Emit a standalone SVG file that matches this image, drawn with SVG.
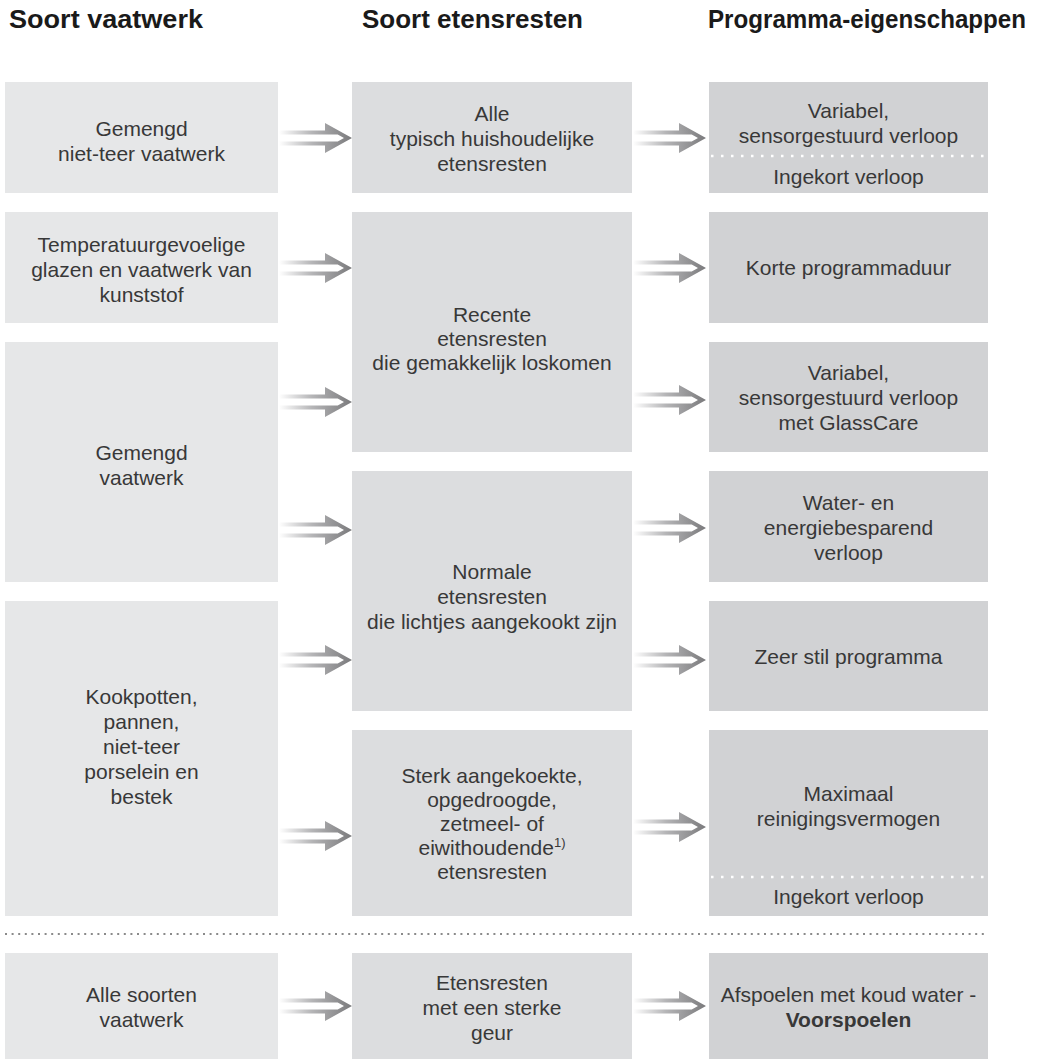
<svg xmlns="http://www.w3.org/2000/svg" xmlns:xlink="http://www.w3.org/1999/xlink" width="1040" height="1059" viewBox="0 0 1040 1059">
<defs>
<style>
.hd{font-family:"Liberation Sans",Arial,sans-serif;font-weight:bold;font-size:25px;fill:#1a1a1a}
.t{font-family:"Liberation Sans",Arial,sans-serif;font-size:21px;fill:#383838;text-anchor:middle}
.b1{fill:#e6e7e8}
.b2{fill:#dcdddf}
.b3{fill:#d1d2d4}
.wd{stroke:#fff;stroke-width:2.5;stroke-dasharray:2.5 7.5;fill:none}
</style>
<linearGradient id="ag" gradientUnits="userSpaceOnUse" x1="-73" y1="0" x2="0" y2="0">
<stop offset="0" stop-color="#ffffff"/>
<stop offset="0.45" stop-color="#b5b5b7"/>
<stop offset="1" stop-color="#7a7a7c"/>
</linearGradient>
<path id="arr" fill="url(#ag)" fill-rule="evenodd" d="M-73,-7.5 H-27 V-15 L0,0 L-27,15 V7.5 H-73 Z M-73,-3.5 H-14.3 L-8,0 L-14.3,3.5 H-73 Z"/>
</defs>
<rect width="1040" height="1059" fill="#fff"/>
<g id="headers">
<text class="hd" x="9" y="28" textLength="194" lengthAdjust="spacingAndGlyphs">Soort vaatwerk</text>
<text class="hd" x="362" y="28" textLength="221" lengthAdjust="spacingAndGlyphs">Soort etensresten</text>
<text class="hd" x="708" y="28" textLength="318" lengthAdjust="spacingAndGlyphs">Programma-eigenschappen</text>
</g>
<g id="col1">
<g id="n-a"><rect class="b1" x="5" y="82" width="273" height="111"/>
<text class="t" x="141.5" y="136">Gemengd</text><text class="t" x="141.5" y="161">niet-teer vaatwerk</text></g>
<g id="n-b"><rect class="b1" x="5" y="212" width="273" height="111"/>
<text class="t" x="141.5" y="252">Temperatuurgevoelige</text><text class="t" x="141.5" y="277">glazen en vaatwerk van</text><text class="t" x="141.5" y="302">kunststof</text></g>
<g id="n-c"><rect class="b1" x="5" y="342" width="273" height="240"/>
<text class="t" x="141.5" y="460">Gemengd</text><text class="t" x="141.5" y="485">vaatwerk</text></g>
<g id="n-d"><rect class="b1" x="5" y="601" width="273" height="315"/>
<text class="t" x="141.5" y="704">Kookpotten,</text><text class="t" x="141.5" y="729">pannen,</text><text class="t" x="141.5" y="754">niet-teer</text><text class="t" x="141.5" y="779">porselein en</text><text class="t" x="141.5" y="804">bestek</text></g>
<g id="n-e"><rect class="b1" x="5" y="953" width="273" height="106"/>
<text class="t" x="141.5" y="1002">Alle soorten</text><text class="t" x="141.5" y="1027">vaatwerk</text></g>
</g>
<g id="col2">
<g id="n-m1"><rect class="b2" x="352" y="82" width="280" height="111"/>
<text class="t" x="492" y="121">Alle</text><text class="t" x="492" y="146">typisch huishoudelijke</text><text class="t" x="492" y="171">etensresten</text></g>
<g id="n-m2"><rect class="b2" x="352" y="212" width="280" height="240"/>
<text class="t" x="492" y="322">Recente</text><text class="t" x="492" y="346">etensresten</text><text class="t" x="492" y="370">die gemakkelijk loskomen</text></g>
<g id="n-m3"><rect class="b2" x="352" y="471" width="280" height="240"/>
<text class="t" x="492" y="579">Normale</text><text class="t" x="492" y="604">etensresten</text><text class="t" x="492" y="629">die lichtjes aangekookt zijn</text></g>
<g id="n-m4"><rect class="b2" x="352" y="730" width="280" height="186"/>
<text class="t" x="492" y="783">Sterk aangekoekte,</text><text class="t" x="492" y="807">opgedroogde,</text><text class="t" x="492" y="831">zetmeel- of</text><text class="t" x="492" y="855">eiwithoudende<tspan font-size="13" dy="-8">1)</tspan></text><text class="t" x="492" y="879">etensresten</text></g>
<g id="n-m5"><rect class="b2" x="352" y="953" width="280" height="106"/>
<text class="t" x="492" y="990">Etensresten</text><text class="t" x="492" y="1015">met een sterke</text><text class="t" x="492" y="1040">geur</text></g>
</g>
<g id="col3">
<g id="n-r1"><rect class="b3" x="709" y="82" width="279" height="111"/>
<text class="t" x="848.5" y="118">Variabel,</text><text class="t" x="848.5" y="143">sensorgestuurd verloop</text>
<line class="wd" x1="711" y1="156" x2="988" y2="156"/>
<text class="t" x="848.5" y="184">Ingekort verloop</text></g>
<g id="n-r2"><rect class="b3" x="709" y="212" width="279" height="111"/>
<text class="t" x="848.5" y="275">Korte programmaduur</text></g>
<g id="n-r3"><rect class="b3" x="709" y="342" width="279" height="110"/>
<text class="t" x="848.5" y="380">Variabel,</text><text class="t" x="848.5" y="405">sensorgestuurd verloop</text><text class="t" x="848.5" y="430">met GlassCare</text></g>
<g id="n-r4"><rect class="b3" x="709" y="471" width="279" height="111"/>
<text class="t" x="848.5" y="510">Water- en</text><text class="t" x="848.5" y="535">energiebesparend</text><text class="t" x="848.5" y="560">verloop</text></g>
<g id="n-r5"><rect class="b3" x="709" y="601" width="279" height="110"/>
<text class="t" x="848.5" y="664">Zeer stil programma</text></g>
<g id="n-r6"><rect class="b3" x="709" y="730" width="279" height="186"/>
<text class="t" x="848.5" y="801">Maximaal</text><text class="t" x="848.5" y="826">reinigingsvermogen</text>
<line class="wd" x1="711" y1="877" x2="988" y2="877"/>
<text class="t" x="848.5" y="904">Ingekort verloop</text></g>
<g id="n-r7"><rect class="b3" x="709" y="953" width="279" height="106"/>
<text class="t" x="848.5" y="1002">Afspoelen met koud water -</text><text class="t" x="848.5" y="1027" font-weight="bold">Voorspoelen</text></g>
</g>
<line id="separator" x1="5" y1="934" x2="988" y2="934" stroke="#8a8a8a" stroke-width="2" stroke-dasharray="2 4.6"/>
<g id="connectors">
<use xlink:href="#arr" transform="translate(352,138)"/>
<use xlink:href="#arr" transform="translate(352,268)"/>
<use xlink:href="#arr" transform="translate(352,402)"/>
<use xlink:href="#arr" transform="translate(352,530)"/>
<use xlink:href="#arr" transform="translate(352,660)"/>
<use xlink:href="#arr" transform="translate(352,836)"/>
<use xlink:href="#arr" transform="translate(352,1006)"/>
<use xlink:href="#arr" transform="translate(706,138)"/>
<use xlink:href="#arr" transform="translate(706,268)"/>
<use xlink:href="#arr" transform="translate(706,400)"/>
<use xlink:href="#arr" transform="translate(706,528)"/>
<use xlink:href="#arr" transform="translate(706,660)"/>
<use xlink:href="#arr" transform="translate(706,827)"/>
<use xlink:href="#arr" transform="translate(706,1006)"/>
</g>
</svg>
